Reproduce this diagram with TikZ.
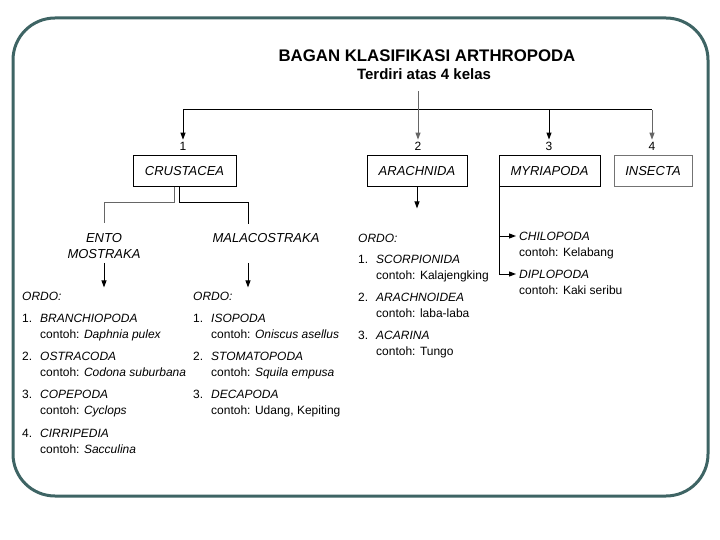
\documentclass[tikz,border=0pt]{standalone}
\usepackage{fontspec}
\setmainfont{Liberation Sans}
\usetikzlibrary{arrows.meta}
\definecolor{frameteal}{HTML}{3E6464}
\newcommand{\orditem}[3]{\makebox[18pt][l]{#1.}\textit{#2}\\\hspace*{18pt}contoh: #3}

\begin{document}
\begin{tikzpicture}[x=1pt, y=-1pt]
  \tikzset{
    kelas/.style={draw=black, line width=1pt, minimum height=31pt, inner sep=0pt, font=\fontsize{13}{15}\selectfont\itshape},
    lbl/.style={font=\fontsize{13}{16}\selectfont\itshape, align=center, inner sep=0pt},
    num/.style={font=\fontsize{12}{14}\selectfont, inner sep=2pt},
    item/.style={font=\fontsize{12}{16}\selectfont, align=left, anchor=base west, inner sep=0pt},
    ln/.style={line width=1pt},
    arr/.style={line width=1pt, -{Triangle[length=7pt, width=5pt]}}
  }
  \useasboundingbox (0,0) rectangle (720,540);

  % Frame
  \draw[frameteal, line width=3pt, rounded corners=42pt] (13,18) rectangle (708,496);

  % Title
  \node[font=\fontsize{16.8}{19}\selectfont\bfseries] (title) at (427,56) {BAGAN KLASIFIKASI ARTHROPODA};
  \node[font=\fontsize{15}{17}\selectfont\bfseries] (sub) at (424,74) {Terdiri atas 4 kelas};

  % Classes
  \node[num] (n1) at (183,146) {1};
  \node[num] (n2) at (418,146) {2};
  \node[num] (n3) at (549,146) {3};
  \node[num] (n4) at (652,146) {4};
  \node[kelas, minimum width=103pt] (crus) at (184.5,171.5) {CRUSTACEA};
  \node[kelas, minimum width=100pt] (arach) at (417,171.5) {ARACHNIDA};
  \node[kelas, minimum width=101pt] (myria) at (549.5,171.5) {MYRIAPODA};
  \node[kelas, minimum width=78pt, draw=black!55] (insect) at (653,171.5) {INSECTA};

  \coordinate (bar) at (418,110);
  \draw[ln] (n1.north |- bar) -- (n4.north |- bar);
  \draw[arr] (n1.north |- bar) -- (n1.north);
  \draw[arr, black!60, shorten <=8pt] (sub.south -| n2.north) -- (n2.north);
  \draw[arr] (n3.north |- bar) -- (n3.north);
  \draw[arr, black!60] (n4.north |- bar) -- (n4.north);

  % Crustacea
  \node[lbl] (ento) at (104,246) {ENTO\\MOSTRAKA};
  \node[lbl] (malaco) at (266,238) {MALACOSTRAKA};
  \draw[ln, black!60, shorten >=10pt] ([xshift=-10.5pt]crus.south) -- ++(0,15) -| (ento.north);
  \draw[ln, shorten >=9pt] ([xshift=-5.5pt]crus.south) -- ++(0,15) -| ([xshift=-18pt]malaco.north);

  \node[item] (ordoA) at (22,300) {\textit{ORDO:}};
  \node[item] (a1) at (22,338) {\orditem{1}{BRANCHIOPODA}{\textit{Daphnia pulex}}};
  \node[item] (a2) at (22,376) {\orditem{2}{OSTRACODA}{\textit{Codona suburbana}}};
  \node[item] (a3) at (22,414) {\orditem{3}{COPEPODA}{\textit{Cyclops}}};
  \node[item] (a4) at (22,453) {\orditem{4}{CIRRIPEDIA}{\textit{Sacculina}}};
  \draw[arr, shorten <=4pt, shorten >=4pt] (ento.south) -- (ento.south |- ordoA.north);

  \node[item] (ordoB) at (193,300) {\textit{ORDO:}};
  \node[item] (b1) at (193,338) {\orditem{1}{ISOPODA}{\textit{Oniscus asellus}}};
  \node[item] (b2) at (193,376) {\orditem{2}{STOMATOPODA}{\textit{Squila empusa}}};
  \node[item] (b3) at (193,414) {\orditem{3}{DECAPODA}{Udang, Kepiting}};
  \draw[arr, shorten <=20pt, shorten >=4pt] ([xshift=-18pt]malaco.south) -- ([xshift=-18pt]malaco.south |- ordoB.north);

  % Arachnida
  \node[item] (ordoC) at (358,242) {\textit{ORDO:}};
  \node[item] (c1) at (358,279) {\orditem{1}{SCORPIONIDA}{Kalajengking}};
  \node[item] (c2) at (358,317) {\orditem{2}{ARACHNOIDEA}{laba-laba}};
  \node[item] (c3) at (358,355) {\orditem{3}{ACARINA}{Tungo}};
  \draw[arr, shorten >=25pt] (arach.south) -- (arach.south |- ordoC.north);

  % Myriapoda
  \node[item] (chilo) at (519,256) {\textit{CHILOPODA}\\contoh: Kelabang};
  \node[item] (diplo) at (519,294) {\textit{DIPLOPODA}\\contoh: Kaki seribu};
  \draw[arr] ([xshift=1pt]myria.south west) |- ([shift={(-3pt,20pt)}]chilo.base west);
  \draw[arr] ([xshift=1pt]myria.south west) |- ([shift={(-3pt,20pt)}]diplo.base west);
\end{tikzpicture}
\end{document}
